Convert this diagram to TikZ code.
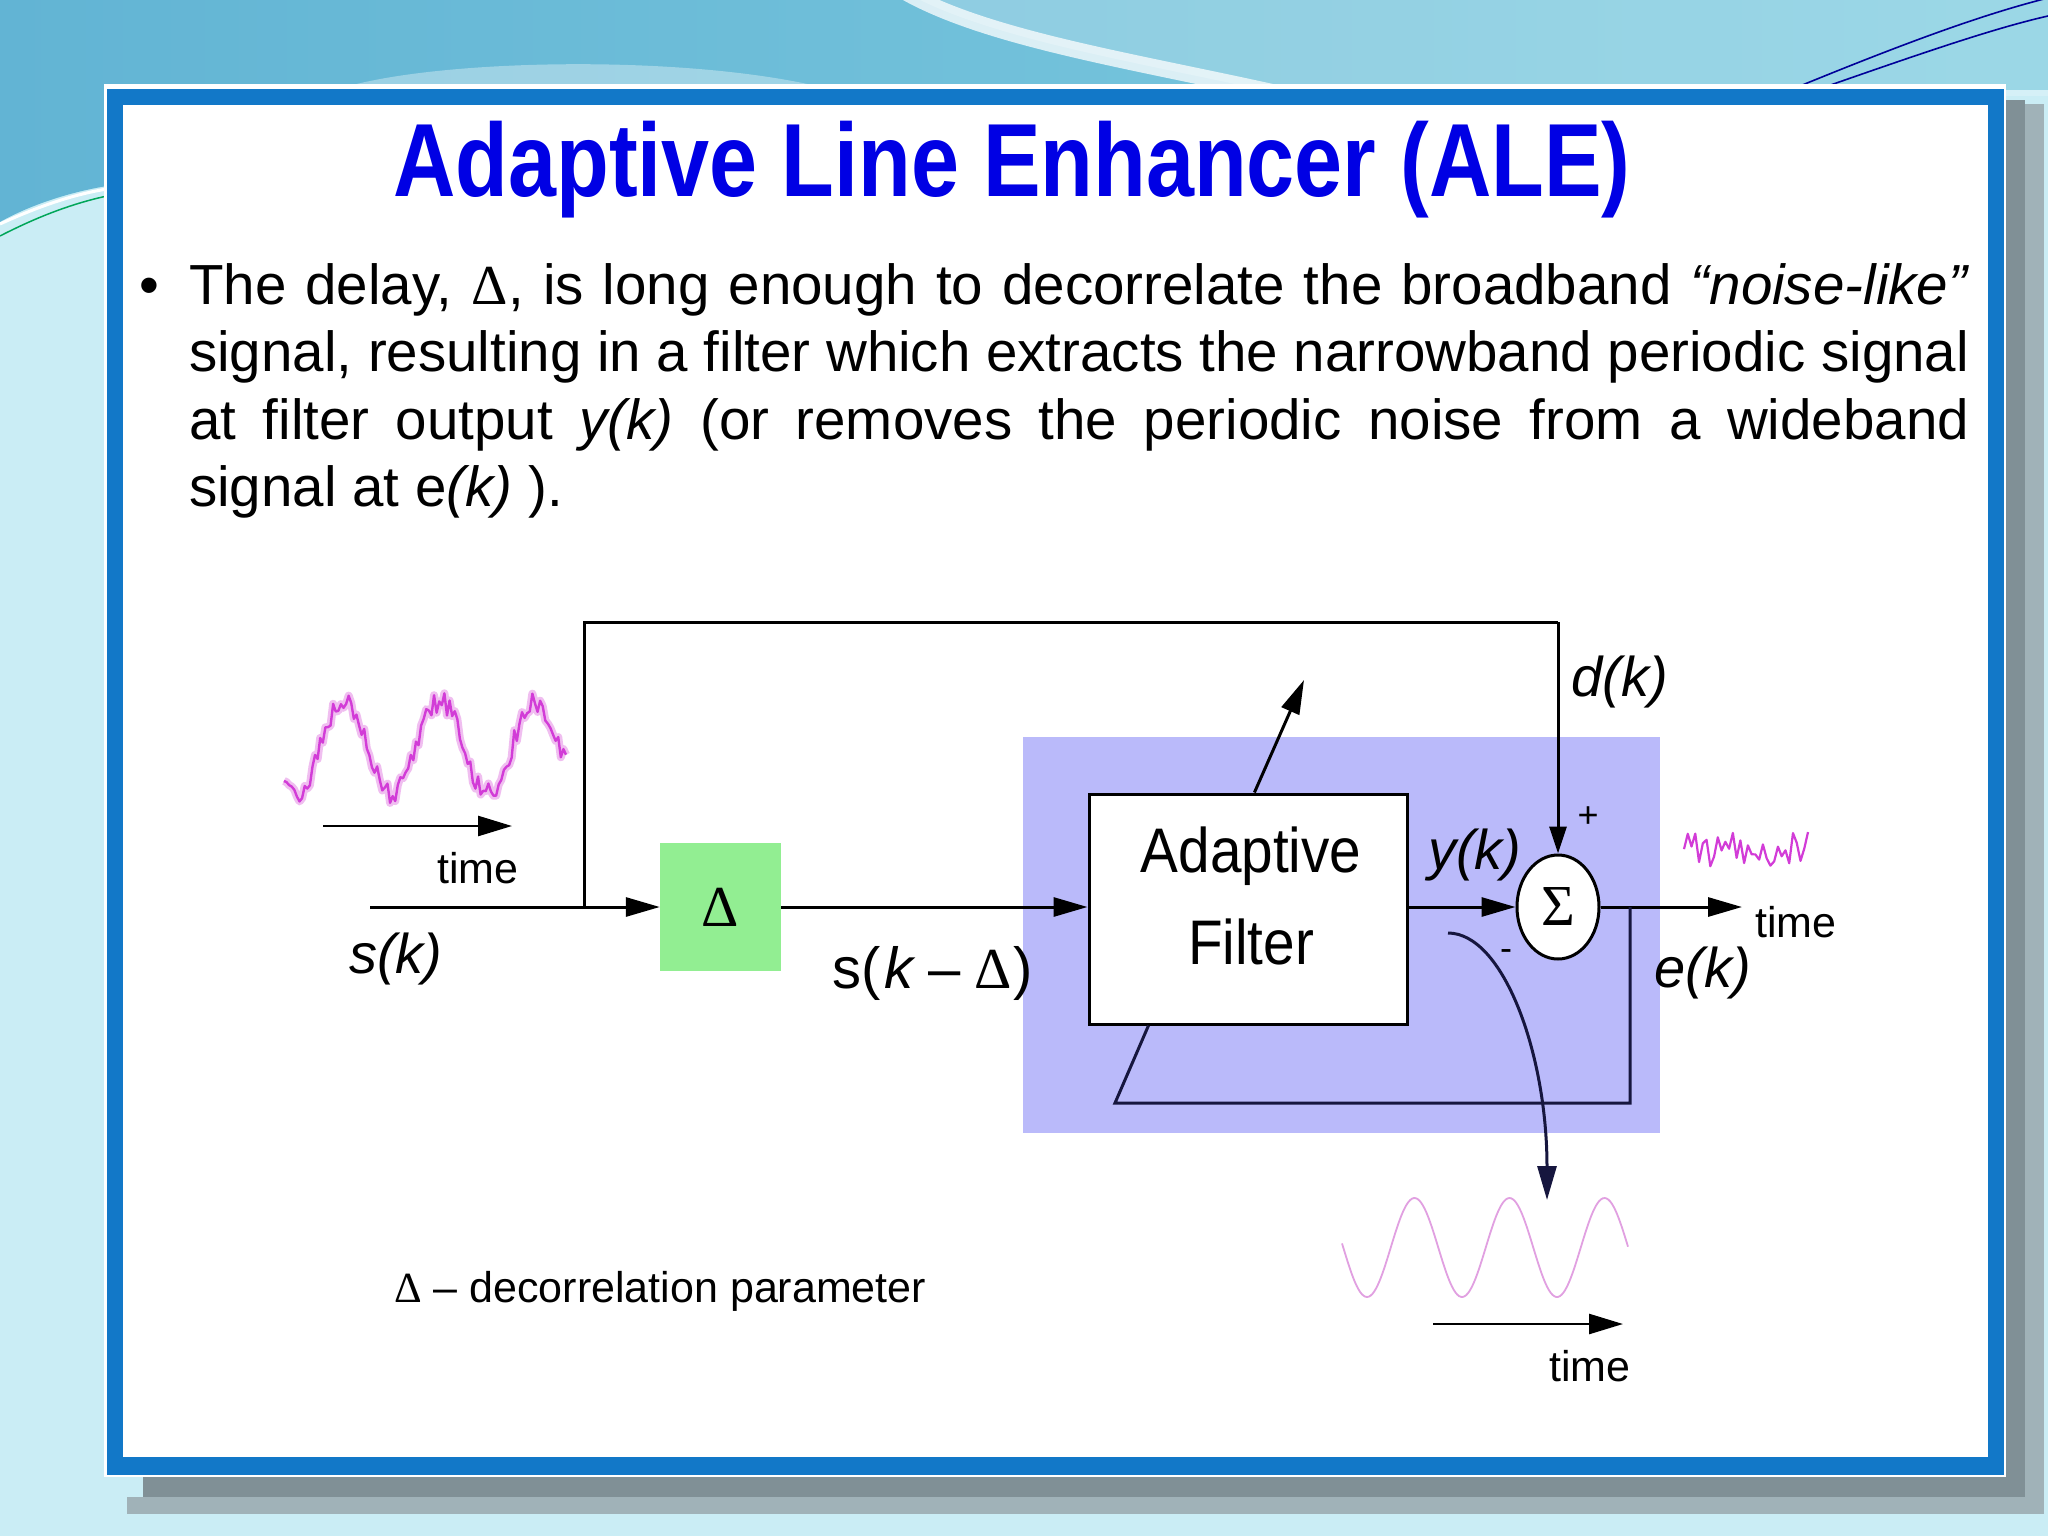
\documentclass[tikz,border=0pt]{standalone}
\usepackage{fontspec}
\setmainfont{Liberation Sans}
\newfontfamily\srf{Liberation Serif}
\usetikzlibrary{arrows.meta,shapes.geometric,calc}
\definecolor{bglight}{RGB}{202,237,245}
\definecolor{bgtopl}{RGB}{98,180,212}
\definecolor{bgtopr}{RGB}{128,205,224}
\definecolor{frameblue}{RGB}{18,120,200}
\definecolor{titleblue}{RGB}{0,0,228}
\definecolor{boxgreen}{RGB}{146,238,146}
\definecolor{lavender}{RGB}{186,186,250}
\definecolor{navy}{RGB}{22,22,62}
\definecolor{noisemag}{RGB}{210,60,215}
\definecolor{noisehalo}{RGB}{240,190,240}
\definecolor{sinepink}{RGB}{225,160,225}
\definecolor{shadowdark}{RGB}{128,144,150}
\definecolor{shadowlight}{RGB}{160,178,184}
\begin{document}
\begin{tikzpicture}[x=1pt,y=-1pt,
  wire/.style={line width=3pt,black},
  arr/.style={wire,-{Triangle[length=34pt,width=19pt]}},
  fbwire/.style={line width=3pt,navy},
  timearr/.style={line width=2.6pt,black,-{Triangle[length=34pt,width=20pt]}},
  lbl/.style={inner sep=0pt,anchor=base west,font=\fontsize{56}{60}\selectfont\itshape},
  small/.style={inner sep=0pt,anchor=base west,font=\fontsize{43}{48}\selectfont},
  noisy/.style={line width=2.4pt,noisemag,line join=round},
  halo/.style={line width=8pt,noisehalo,line join=round},
  sine/.style={line width=1.8pt,sinepink}]
\useasboundingbox (0,0) rectangle (2048,1536);
% ---------- background ----------
\fill[bglight] (0,0) rectangle (2048,1536);
\shade[left color=bgtopl,right color=bgtopr]
  (0,0) -- (2048,0) -- (2048,90) -- (107,90) -- (107,186)
  .. controls (70,192) and (30,205) .. (0,222) -- cycle;
\fill[white,opacity=0.35] (330,92) .. controls (420,58) and (700,52) .. (840,92) -- cycle;
\fill[white,opacity=0.22] (905,-8) .. controls (990,40) and (1140,62) .. (1290,96) -- (2048,96) -- (2048,-8) -- cycle;
\draw[white,line width=16pt,opacity=0.75] (905,-8) .. controls (990,40) and (1140,62) .. (1290,96);
\draw[white,line width=3pt] (0,224) .. controls (35,208) and (70,195) .. (107,189);
\draw[teal!70!green,line width=1.5pt] (0,236) .. controls (35,218) and (70,204) .. (107,196);
\draw[blue!60!black,line width=1.6pt] (1795,88) .. controls (1900,45) and (1980,15) .. (2048,-2);
\draw[blue!60!black,line width=1.6pt] (1822,88) .. controls (1925,52) and (1995,28) .. (2048,16);
% ---------- slide frame ----------
\fill[shadowlight] (2025,104) rectangle (2044,1514);
\fill[shadowlight] (127,1497) rectangle (2044,1514);
\fill[shadowdark] (2004,100) rectangle (2025,1497);
\fill[shadowdark] (143,1476) rectangle (2025,1497);
\fill[white] (104,84) rectangle (2006,1477);
\fill[frameblue] (107,89) rectangle (2004,1475);
\fill[white] (123,105) rectangle (1988,1457);
% ---------- title and text ----------
\node[anchor=base,inner sep=0pt,text=titleblue,font=\fontsize{104}{120}\selectfont\bfseries]
  (title) at (1012,196) {\scalebox{0.83}[1]{Adaptive Line Enhancer (ALE)}};
\node[anchor=base west,inner sep=0pt,font=\fontsize{56.5}{67}\selectfont] (bul) at (139,304) {•};
\node[anchor=north west,inner sep=0pt,text width=1780pt,align=justify,
  font=\fontsize{56.5}{67.5}\selectfont] (body) at (189,263)
  {The delay, {\srf Δ}, is long enough to decorrelate the broadband \textit{“noise-like”}\linebreak
   signal, resulting in a filter which extracts the narrowband periodic signal\linebreak
   at filter output \textit{y(k)} (or removes the periodic noise from a wideband\linebreak
   signal at e\textit{(k)} ).};
% ---------- diagram ----------
\fill[lavender] (1023,737) rectangle (1660,1133);
\node[fill=boxgreen,minimum width=121pt,minimum height=128pt,inner sep=0pt,
  font=\fontsize{58}{60}\selectfont\srf] (dl) at (720.5,907) {Δ};
\node[draw,line width=3pt,fill=white,minimum width=318pt,minimum height=230pt,inner sep=0pt]
  (af) at (1248,909) {};
\node[anchor=base,inner sep=0pt,font=\fontsize{63}{70}\selectfont] (aft1) at (1251,872) {\scalebox{0.9}[1]{Adaptive}};
\node[anchor=base,inner sep=0pt,font=\fontsize{63}{70}\selectfont] (aft2) at (1251,964) {\scalebox{0.9}[1]{Filter}};
\node[draw,line width=3pt,fill=white,ellipse,minimum width=82pt,minimum height=104pt,inner sep=0pt,
  font=\fontsize{58}{60}\selectfont\srf] (sum) at (1558,907) {Σ};
% coordinates
\coordinate (in) at (370,907);
\coordinate (tap) at (584,907);
\coordinate (tt) at (584,622);
\coordinate (tr) at (1558,622);
\coordinate (out) at (1742,907);
\coordinate (fb1) at (1630,907);
\coordinate (fb2) at (1630,1103);
\coordinate (fb3) at (1115,1103);
\coordinate (fb4) at ($(af.south west)!0.19!(af.south east)$);
\coordinate (adbase) at ($(af.north west)!0.52!(af.north east)$);
\coordinate (adtip) at (1304,680);
\coordinate (cs) at (1448,933);
\coordinate (ce) at (1547,1200);
% connectors
\draw[wire] (in) -- (tap);
\draw[arr] (tap) -- (dl.west);
\draw[wire] (tap) -- (tt) -- (tr);
\draw[wire,-{Triangle[length=27pt,width=17pt]}] (tr) -- (sum.north);
\draw[arr] (dl.east) -- (dl.east -| af.west);
\draw[arr] (af.east |- sum.west) -- (sum.west);
\draw[arr] (sum.east) -- (out);
\draw[fbwire] (fb1) -- (fb2) -- (fb3) -- (fb4);
\draw[arr] (adbase) -- (adtip);
\draw[fbwire,-{Triangle[length=34pt,width=19pt]}] (cs) .. controls (1503,933) and (1547,1053) .. (ce);
% labels
\node[lbl] (dk) at (1571,696) {d(k)};
\node[lbl] (yk) at (1428,869) {y(k)};
\node[lbl] (ek) at (1654,987) {e(k)};
\node[lbl] (sk) at (349,973) {s(k)};
\node[lbl,font=\fontsize{58}{60}\selectfont\itshape] (skd) at (832,988)
  {\upshape s(\hspace{4pt}\textit{k}\hspace{13pt}–\hspace{13pt}{\srf Δ}\hspace{2pt})};
\node[inner sep=0pt,font=\fontsize{36}{38}\selectfont] (plus) at (1588,817) {+};
\node[inner sep=0pt,font=\fontsize{36}{38}\selectfont] (minus) at (1506,955) {-};
% time axes
\coordinate (t1a) at (323,826); \coordinate (t1b) at (512,826);
\draw[timearr] (t1a) -- (t1b);
\node[small] (time1) at (437,883) {time};
\coordinate (t3a) at (1433,1324); \coordinate (t3b) at (1623,1324);
\draw[timearr] (t3a) -- (t3b);
\node[small] (time3) at (1549,1381) {time};
\node[small] (time2) at (1755,937) {time};
\node[small] (legend) at (394,1302) {{\srf Δ} – decorrelation parameter};
% signals
\pgfmathsetseed{11}
\draw[halo] plot[domain=284:566,samples=110] (\x,{748+46*cos((\x-296)/96*360)+11*rand});
\pgfmathsetseed{11}
\draw[noisy] plot[domain=284:566,samples=110] (\x,{748+46*cos((\x-296)/96*360)+11*rand});
\pgfmathsetseed{5}
\draw[noisy,line width=2.2pt] plot[domain=1684:1808,samples=34] (\x,{850+18*rand});
\draw[sine] plot[domain=1342:1628,samples=160,smooth] (\x,{1247.5+49.5*cos((\x-1367)/95*360)});
\end{tikzpicture}
\end{document}
